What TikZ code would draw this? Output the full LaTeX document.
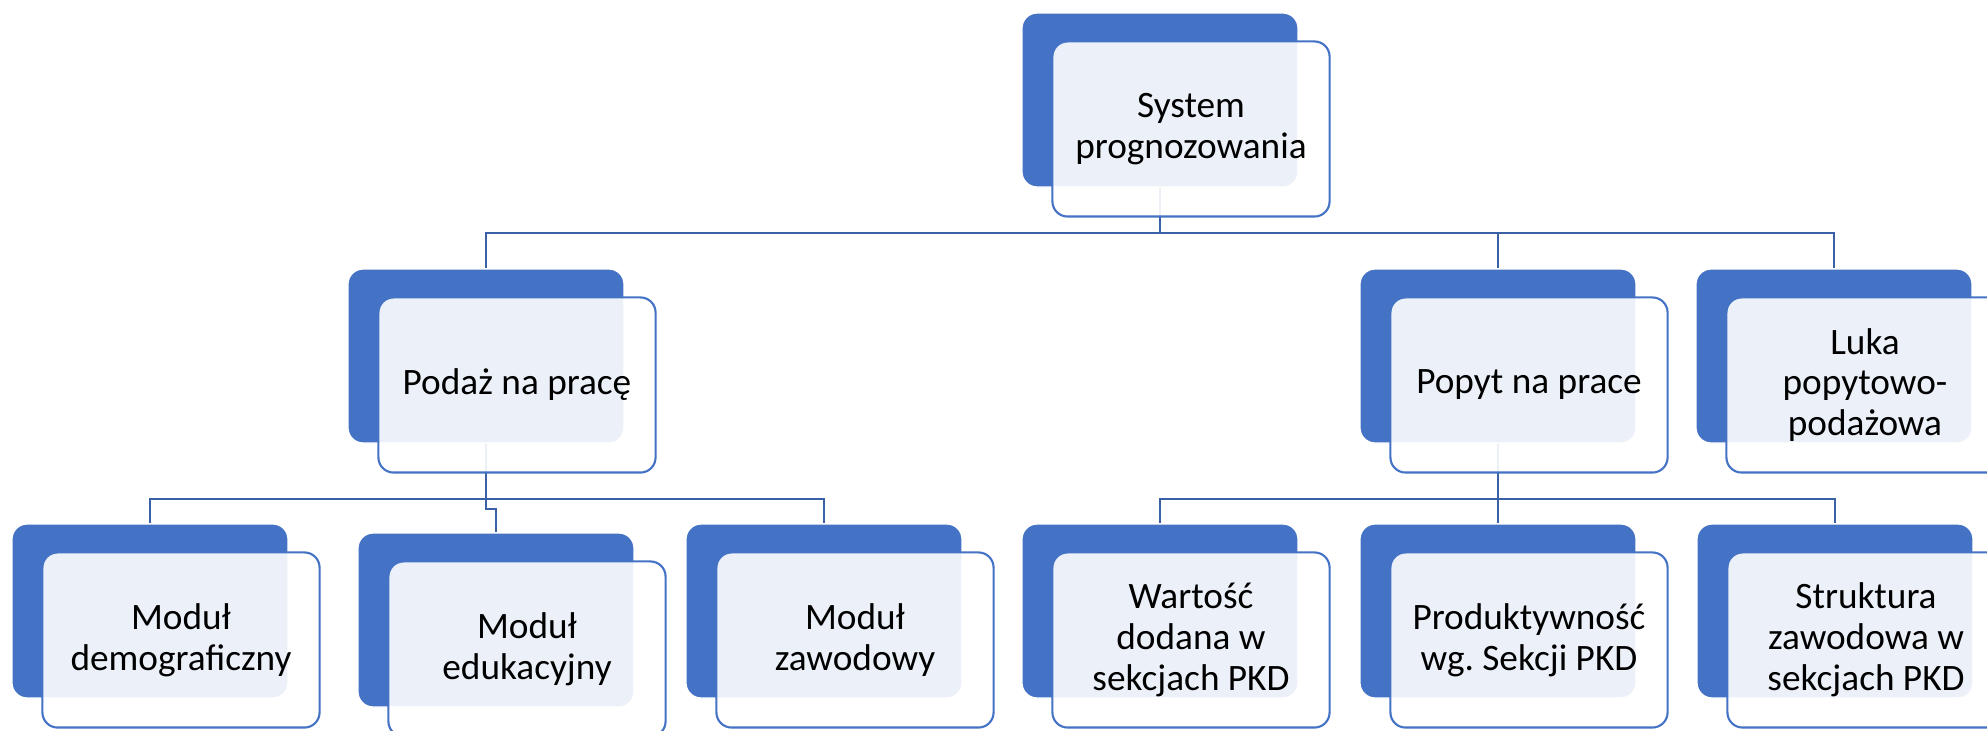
\documentclass[tikz,border=0pt]{standalone}
\usepackage{fontspec}
\setmainfont{Carlito}
\usetikzlibrary{calc}

\definecolor{smartblue}{HTML}{4472C4}
\frenchspacing

\begin{document}
\begin{tikzpicture}[x=0.01cm, y=-0.01cm,
        back/.style={rectangle, rounded corners=4.3pt, fill=smartblue, draw=white, line width=0.4pt,
            minimum width=2.76cm, minimum height=1.74cm, inner sep=0pt},
        front/.style={rectangle, rounded corners=4.3pt, fill=white, fill opacity=0.9, text opacity=1,
            draw=smartblue, line width=0.6pt, minimum width=2.77cm, minimum height=1.75cm,
            align=center, font=\fontsize{10.6}{11.6}\selectfont},
        link/.style={draw=smartblue!85!black, line width=0.6pt}]
        \useasboundingbox (0,0) rectangle (1987,731);

        \node[back] (sys) at (1160,100) {};
        \node[back] (podaz) at (486,356) {};
        \node[back] (popyt) at (1498,356) {};
        \node[back] (luka) at (1834,356) {};
        \node[back] (demo) at (150,611) {};
        \node[back] (edu) at (496,620) {};
        \node[back] (zaw) at (824,611) {};
        \node[back] (wart) at (1160,611) {};
        \node[back] (prod) at (1498,611) {};
        \node[back] (strukt) at (1835,611) {};

        \foreach \k in {podaz,popyt,luka}
            \draw[link] (sys.south) -- ++(0,45) -| (\k.north);
        \foreach \k in {demo,zaw}
            \draw[link] (podaz.south) -- ++(0,55) -| (\k.north);
        \draw[link] (podaz.south) -- ++(0,65) -| (edu.north);
        \foreach \k in {wart,prod,strukt}
            \draw[link] (popyt.south) -- ++(0,55) -| (\k.north);

        \node[front] (sys-t) at ($(sys)+(31,29)$) {System\\prognozowania};
        \node[front] (podaz-t) at ($(podaz)+(31,29)$) {Podaż na pracę};
        \node[front] (popyt-t) at ($(popyt)+(31,29)$) {Popyt na prace};
        \node[front] (luka-t) at ($(luka)+(31,29)$) {Luka\\popytowo-\\podażowa};
        \node[front] (demo-t) at ($(demo)+(31,29)$) {Moduł\\demograficzny};
        \node[front] (edu-t) at ($(edu)+(31,29)$) {Moduł\\edukacyjny};
        \node[front] (zaw-t) at ($(zaw)+(31,29)$) {Moduł\\zawodowy};
        \node[front] (wart-t) at ($(wart)+(31,29)$) {Wartość\\dodana w\\sekcjach PKD};
        \node[front] (prod-t) at ($(prod)+(31,29)$) {Produktywność\\wg. Sekcji PKD};
        \node[front] (strukt-t) at ($(strukt)+(31,29)$) {Struktura\\zawodowa w\\sekcjach PKD};
    \end{tikzpicture}
\end{document}
